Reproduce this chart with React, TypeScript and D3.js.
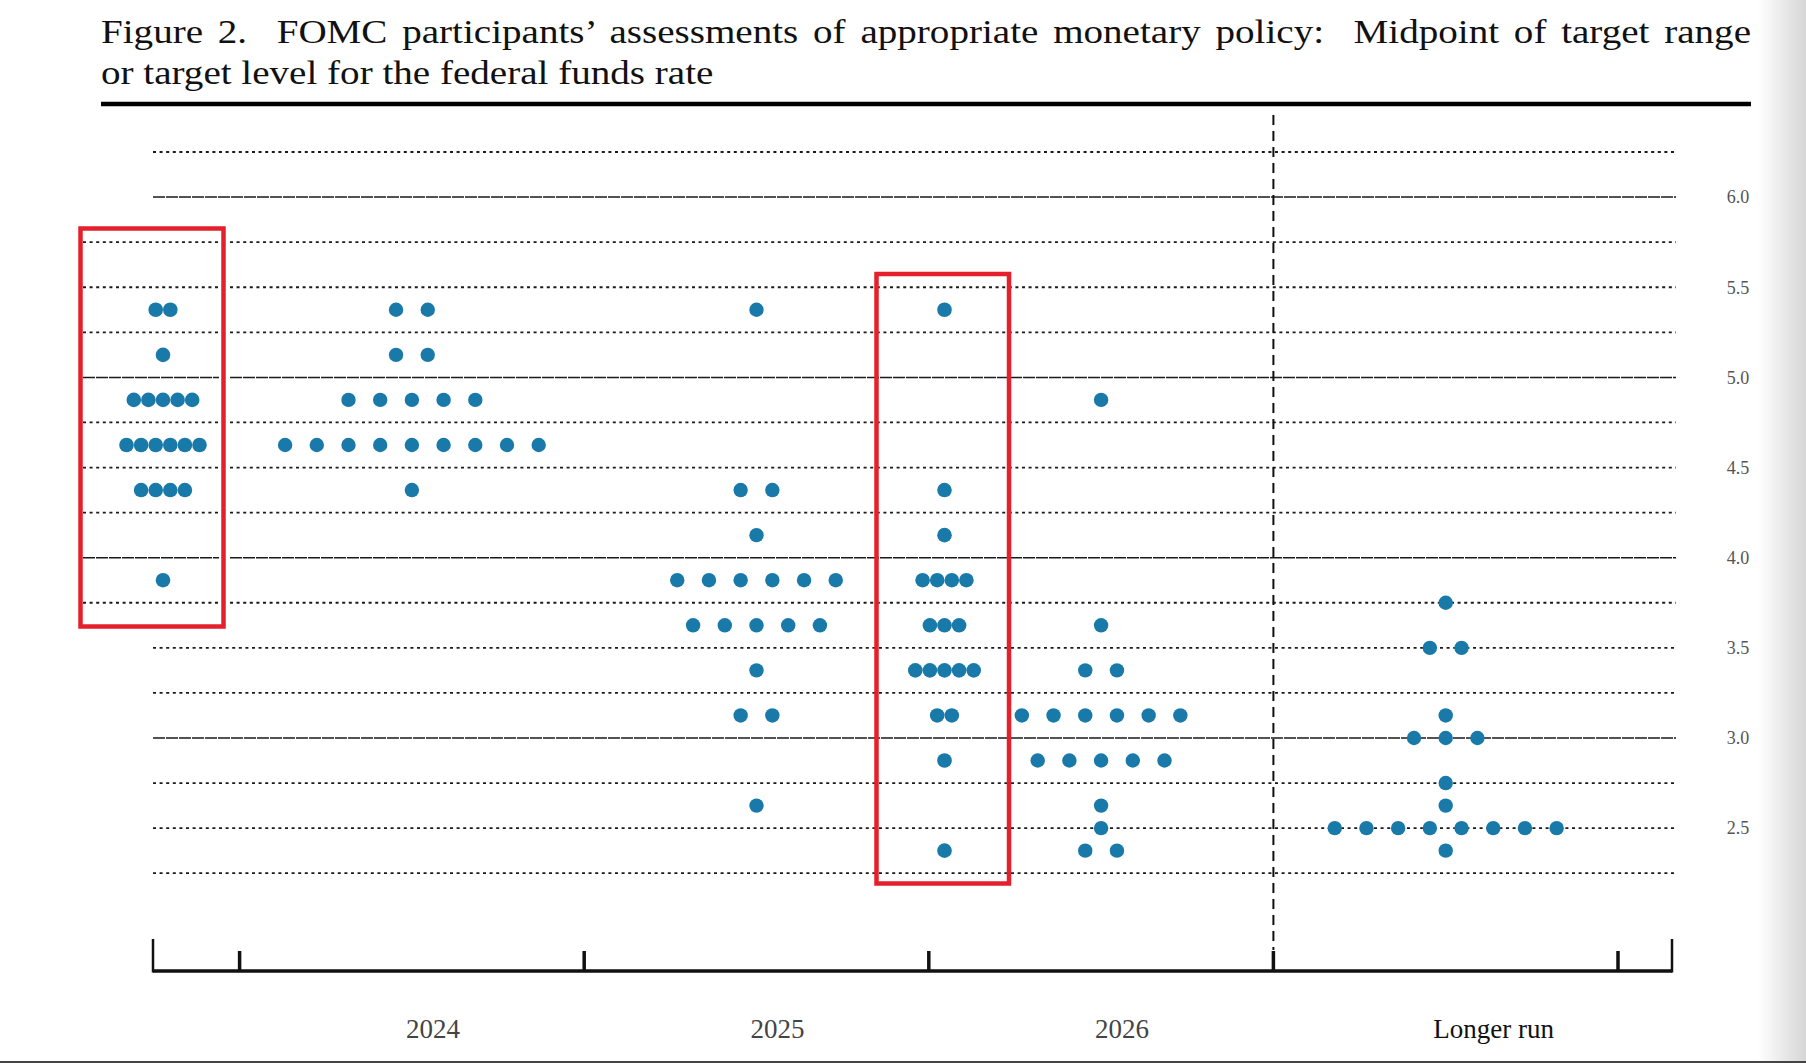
import React, { useEffect, useRef } from 'react';
import * as d3 from 'd3';

const categories = ['2024', '2025', '2026', 'Longer run'];

// one entry per participant: midpoint of target range
const dots2024 = [
  5.375, 5.375, 5.125, 5.125,
  4.875, 4.875, 4.875, 4.875, 4.875,
  4.625, 4.625, 4.625, 4.625, 4.625, 4.625, 4.625, 4.625, 4.625,
  4.375,
];
const dots2025 = [
  5.375, 4.375, 4.375, 4.125,
  3.875, 3.875, 3.875, 3.875, 3.875, 3.875,
  3.625, 3.625, 3.625, 3.625, 3.625,
  3.375, 3.125, 3.125, 2.625,
];
const dots2026 = [
  4.875, 3.625, 3.375, 3.375,
  3.125, 3.125, 3.125, 3.125, 3.125, 3.125,
  2.875, 2.875, 2.875, 2.875, 2.875,
  2.625, 2.5, 2.375, 2.375,
];
const dotsLongerRun = [
  3.75, 3.5, 3.5, 3.125, 3.0, 3.0, 3.0, 2.75, 2.625,
  2.5, 2.5, 2.5, 2.5, 2.5, 2.5, 2.5, 2.5,
  2.375,
];
const seriesValues = [dots2024, dots2025, dots2026, dotsLongerRun];

// the two pasted-in columns inside the red boxes
const insetLeftDots = [
  5.375, 5.375, 5.125,
  4.875, 4.875, 4.875, 4.875, 4.875,
  4.625, 4.625, 4.625, 4.625, 4.625, 4.625,
  4.375, 4.375, 4.375, 4.375,
  3.875,
];
const insetRightDots = [
  5.375, 4.375, 4.125,
  3.875, 3.875, 3.875, 3.875,
  3.625, 3.625, 3.625,
  3.375, 3.375, 3.375, 3.375, 3.375,
  3.125, 3.125, 2.875, 2.375,
];

const yTickValues = [6.0, 5.5, 5.0, 4.5, 4.0, 3.5, 3.0, 2.5];

const titleLines = [
  'Figure 2.  FOMC participants\u2019 assessments of appropriate monetary policy:  Midpoint of target range',
  'or target level for the federal funds rate',
];

const App = () => {
  const svgRef = useRef<SVGSVGElement | null>(null);

  useEffect(() => {
    if (!svgRef.current) return;
    const W = 1806;
    const H = 1063;
    const svg = d3.select(svgRef.current).attr('width', W).attr('height', H);
    svg.selectAll('*').remove();

    const dotColor = '#1979a9';
    const red = '#e3202b';
    const serif = '"Liberation Serif", "Times New Roman", serif';

    // background + grey page edge on the right
    const defs = svg.append('defs');
    const grad = defs.append('linearGradient').attr('id', 'edge')
      .attr('x1', '0').attr('x2', '1').attr('y1', '0').attr('y2', '0');
    grad.append('stop').attr('offset', '0').attr('stop-color', '#ffffff');
    grad.append('stop').attr('offset', '1').attr('stop-color', '#d6d6d6');
    svg.append('rect').attr('width', W).attr('height', H).attr('fill', '#fff');
    svg.append('rect').attr('x', 1758).attr('width', W - 1758).attr('height', H).attr('fill', 'url(#edge)');
    svg.append('line').attr('x1', 0).attr('x2', W).attr('y1', H - 1).attr('y2', H - 1)
      .attr('stroke', '#444').attr('stroke-width', 2);

    // scales
    const y = d3.scaleLinear().domain([2.25, 6.25]).range([873.2, 152]);
    const x = d3.scaleBand().domain(categories).range([239.6, 1618]).paddingInner(0).paddingOuter(0);
    const bw = x.bandwidth();

    const box1 = { x0: 80.5, y0: 228.5, x1: 223.5, y1: 626.5 };
    const box2 = { x0: 876.5, y0: 274, x1: 1009, y1: 883.5 };

    // horizontal grid: whole numbers nearly solid, quarters dotted
    const levels = d3.range(2.25, 6.26, 0.25);
    const grid = svg.append('g');
    levels.forEach(v => {
      const yy = y(v);
      const isInt = Math.abs(v - Math.round(v)) < 1e-6;
      const segs = yy > box1.y0 && yy < box1.y1 ? [[83, 219], [230, 1676]] : [[153, 1676]];
      segs.forEach(([a, b]) => {
        grid.append('line')
          .attr('x1', a).attr('x2', b).attr('y1', yy).attr('y2', yy)
          .attr('stroke', '#1a1a1a')
          .attr('stroke-width', isInt ? 1.5 : 1.8)
          .attr('stroke-dasharray', isInt ? '12,1' : '3,3.6');
      });
    });

    // right-hand tick labels
    svg.append('g').selectAll('text')
      .data(yTickValues)
      .enter()
      .append('text')
      .attr('x', 1738)
      .attr('y', d => y(d))
      .attr('dy', '0.35em')
      .attr('text-anchor', 'middle')
      .attr('font-family', serif)
      .attr('font-size', 18)
      .attr('fill', '#555')
      .text(d => d3.format('.1f')(d));

    // vertical dashed separator before "Longer run"
    const sepX = x('Longer run') as number;
    svg.append('line')
      .attr('x1', sepX).attr('x2', sepX).attr('y1', 115).attr('y2', 950)
      .attr('stroke', '#111').attr('stroke-width', 2).attr('stroke-dasharray', '10,6');

    // bottom axis with upward ticks
    const axisY = 971;
    const axis = svg.append('g').attr('stroke', '#111');
    axis.append('line').attr('x1', 153).attr('x2', 1672).attr('y1', axisY).attr('y2', axisY)
      .attr('stroke-width', 3.5);
    [153, 1672].forEach(px => {
      axis.append('line').attr('x1', px).attr('x2', px).attr('y1', 939).attr('y2', axisY + 1.5)
        .attr('stroke-width', 2.5);
    });
    const bounds = categories.map(c => x(c) as number).concat([x.range()[1]]);
    bounds.forEach(px => {
      axis.append('line').attr('x1', px).attr('x2', px).attr('y1', 951).attr('y2', axisY)
        .attr('stroke-width', 3.5);
    });

    // category labels (placed slightly right of column centres, as in the original)
    const labelShift: Record<string, number> = { '2024': 21, '2025': 21, '2026': 21, 'Longer run': 48 };
    svg.append('g').selectAll('text')
      .data(categories)
      .enter()
      .append('text')
      .attr('x', d => (x(d) as number) + bw / 2 + labelShift[d])
      .attr('y', 1038)
      .attr('text-anchor', 'middle')
      .attr('font-family', serif)
      .attr('font-size', 27)
      .attr('fill', d => (d === 'Longer run' ? '#111' : '#444'))
      .text(d => d);

    // dots
    const drawColumn = (vals: number[], cx: number, spacing: number, r: number) => {
      const g = svg.append('g');
      d3.rollups(vals, v => v.length, d => d).forEach(([val, count]) => {
        d3.range(count).forEach(i => {
          g.append('circle')
            .attr('cx', cx + (i - (count - 1) / 2) * spacing)
            .attr('cy', y(val))
            .attr('r', r)
            .attr('fill', dotColor);
        });
      });
    };
    seriesValues.forEach((vals, i) => {
      drawColumn(vals, (x(categories[i]) as number) + bw / 2, 31.7, 7.2);
    });
    drawColumn(insetLeftDots, 163, 14.6, 7.3);
    drawColumn(insetRightDots, 944.5, 14.6, 7.3);

    // red highlight boxes
    [box1, box2].forEach(b => {
      svg.append('rect')
        .attr('x', b.x0).attr('y', b.y0)
        .attr('width', b.x1 - b.x0).attr('height', b.y1 - b.y0)
        .attr('fill', 'none').attr('stroke', red).attr('stroke-width', 4.5);
    });

    // title: glyphs widened to mimic Computer Modern, first line justified to the rule
    const sx = 1.15;
    const titleG = svg.append('g').attr('transform', `translate(101,0) scale(${sx},1)`);
    const t1 = titleG.append('text')
      .attr('x', 0).attr('y', 43)
      .attr('font-family', serif).attr('font-size', 34).attr('fill', '#111')
      .style('white-space', 'pre')
      .text(titleLines[0]);
    const natural = (t1.node() as SVGTextElement).getComputedTextLength();
    const nSpaces = titleLines[0].split(' ').length - 1;
    t1.attr('word-spacing', (1650 / sx - natural) / nSpaces);
    titleG.append('text')
      .attr('x', 0).attr('y', 84)
      .attr('font-family', serif).attr('font-size', 34).attr('fill', '#111')
      .text(titleLines[1]);
    svg.append('line')
      .attr('x1', 101).attr('x2', 1751).attr('y1', 104).attr('y2', 104)
      .attr('stroke', '#000').attr('stroke-width', 4.5);
  }, []);

  return (
    <div style={{ position: 'absolute', left: 0, top: 0 }}>
      <svg ref={svgRef} style={{ display: 'block' }}></svg>
    </div>
  );
};

export default App;
